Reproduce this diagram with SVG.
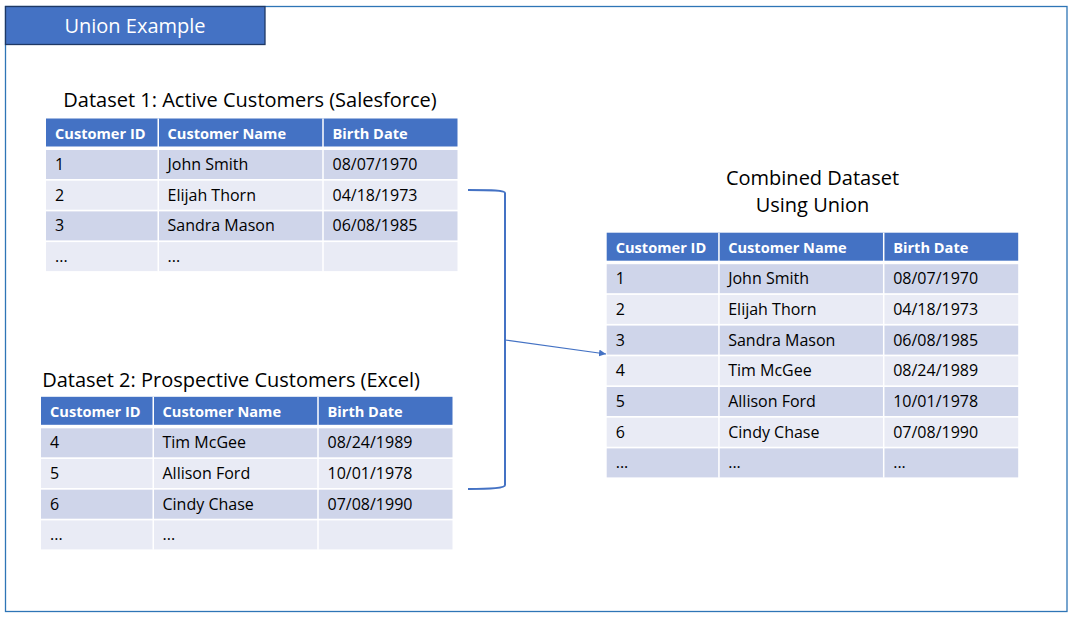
<svg xmlns="http://www.w3.org/2000/svg" width="1072" height="618" viewBox="0 0 1072 618">
<style>
.hd{fill:#4472C4}
.r1{fill:#CFD5EA}
.r2{fill:#E9EBF5}
.sep{stroke:#FFFFFF;stroke-width:1.5}
.ht{font-family:"Open Sans","Noto Sans",sans-serif;font-weight:bold;font-size:14.6px;fill:#FFFFFF}
.dt{font-family:"Open Sans","Noto Sans",sans-serif;font-size:16px;fill:#000000}
.ttl{font-family:"Open Sans","Noto Sans",sans-serif;font-size:20px;fill:#000000;text-anchor:middle}
.conn{fill:none;stroke:#4472C4}
</style>
<defs>
<marker id="arr" viewBox="0 0 10 10" refX="10" refY="5" markerWidth="7" markerHeight="7" markerUnits="userSpaceOnUse" orient="auto">
<path d="M0,0 L10,5 L0,10 z" fill="#4472C4"/>
</marker>
</defs>
<rect width="1072" height="618" fill="#FFFFFF"/>
<g id="frame">
<rect x="5.5" y="6.5" width="1061.5" height="605" fill="none" stroke="#2E75B6" stroke-width="1.3"/>
</g>
<g id="title">
<rect x="5.5" y="6.5" width="259.5" height="38" fill="#4472C4" stroke="#1F3864" stroke-width="1.3"/>
<text x="135" y="32.5" font-family="Open Sans, Noto Sans, sans-serif" font-size="20" fill="#FFFFFF" text-anchor="middle">Union Example</text>
</g>

<g id="dataset1">
<text class="ttl" x="250" y="106.5">Dataset 1: Active Customers (Salesforce)</text>
<g transform="translate(46,118.5)">
<rect class="hd" x="0" y="0" width="411.5" height="28"/>
<rect class="r1" x="0" y="31.5" width="411.5" height="29"/>
<rect class="r2" x="0" y="62.2" width="411.5" height="29"/>
<rect class="r1" x="0" y="92.9" width="411.5" height="29"/>
<rect class="r2" x="0" y="123.6" width="411.5" height="29"/>
<line class="sep" x1="112.25" y1="0" x2="112.25" y2="153"/>
<line class="sep" x1="277" y1="0" x2="277" y2="153"/>
<text class="ht" x="9" y="20.5">Customer ID</text>
<text class="ht" x="121.5" y="20.5">Customer Name</text>
<text class="ht" x="286.5" y="20.5">Birth Date</text>
<text class="dt" x="9" y="51.5">1</text>
<text class="dt" x="121.5" y="51.5">John Smith</text>
<text class="dt" x="286.5" y="51.5">08/07/1970</text>
<text class="dt" x="9" y="82.2">2</text>
<text class="dt" x="121.5" y="82.2">Elijah Thorn</text>
<text class="dt" x="286.5" y="82.2">04/18/1973</text>
<text class="dt" x="9" y="112.9">3</text>
<text class="dt" x="121.5" y="112.9">Sandra Mason</text>
<text class="dt" x="286.5" y="112.9">06/08/1985</text>
<text class="dt" x="9" y="143.6">...</text>
<text class="dt" x="121.5" y="143.6">...</text>
</g>
</g>

<g id="dataset2">
<text class="ttl" x="231" y="386.7">Dataset 2: Prospective Customers (Excel)</text>
<g transform="translate(41,396.8)">
<rect class="hd" x="0" y="0" width="411.5" height="28"/>
<rect class="r1" x="0" y="31.5" width="411.5" height="29"/>
<rect class="r2" x="0" y="62.2" width="411.5" height="29"/>
<rect class="r1" x="0" y="92.9" width="411.5" height="29"/>
<rect class="r2" x="0" y="123.6" width="411.5" height="29"/>
<line class="sep" x1="112.25" y1="0" x2="112.25" y2="153"/>
<line class="sep" x1="277" y1="0" x2="277" y2="153"/>
<text class="ht" x="9" y="20.5">Customer ID</text>
<text class="ht" x="121.5" y="20.5">Customer Name</text>
<text class="ht" x="286.5" y="20.5">Birth Date</text>
<text class="dt" x="9" y="51.5">4</text>
<text class="dt" x="121.5" y="51.5">Tim McGee</text>
<text class="dt" x="286.5" y="51.5">08/24/1989</text>
<text class="dt" x="9" y="82.2">5</text>
<text class="dt" x="121.5" y="82.2">Allison Ford</text>
<text class="dt" x="286.5" y="82.2">10/01/1978</text>
<text class="dt" x="9" y="112.9">6</text>
<text class="dt" x="121.5" y="112.9">Cindy Chase</text>
<text class="dt" x="286.5" y="112.9">07/08/1990</text>
<text class="dt" x="9" y="143.6">...</text>
<text class="dt" x="121.5" y="143.6">...</text>
</g>
</g>

<g id="combined">
<text class="ttl" x="812.5" y="185">Combined Dataset</text>
<text class="ttl" x="812.5" y="211.7">Using Union</text>
<g transform="translate(606.7,232.7)">
<rect class="hd" x="0" y="0" width="411.5" height="28"/>
<rect class="r1" x="0" y="31.5" width="411.5" height="29"/>
<rect class="r2" x="0" y="62.2" width="411.5" height="29"/>
<rect class="r1" x="0" y="92.9" width="411.5" height="29"/>
<rect class="r2" x="0" y="123.6" width="411.5" height="29"/>
<rect class="r1" x="0" y="154.3" width="411.5" height="29"/>
<rect class="r2" x="0" y="185" width="411.5" height="29"/>
<rect class="r1" x="0" y="215.7" width="411.5" height="29"/>
<line class="sep" x1="112.25" y1="0" x2="112.25" y2="245"/>
<line class="sep" x1="277" y1="0" x2="277" y2="245"/>
<text class="ht" x="9" y="20.5">Customer ID</text>
<text class="ht" x="121.5" y="20.5">Customer Name</text>
<text class="ht" x="286.5" y="20.5">Birth Date</text>
<text class="dt" x="9" y="51.5">1</text>
<text class="dt" x="121.5" y="51.5">John Smith</text>
<text class="dt" x="286.5" y="51.5">08/07/1970</text>
<text class="dt" x="9" y="82.2">2</text>
<text class="dt" x="121.5" y="82.2">Elijah Thorn</text>
<text class="dt" x="286.5" y="82.2">04/18/1973</text>
<text class="dt" x="9" y="112.9">3</text>
<text class="dt" x="121.5" y="112.9">Sandra Mason</text>
<text class="dt" x="286.5" y="112.9">06/08/1985</text>
<text class="dt" x="9" y="143.6">4</text>
<text class="dt" x="121.5" y="143.6">Tim McGee</text>
<text class="dt" x="286.5" y="143.6">08/24/1989</text>
<text class="dt" x="9" y="174.3">5</text>
<text class="dt" x="121.5" y="174.3">Allison Ford</text>
<text class="dt" x="286.5" y="174.3">10/01/1978</text>
<text class="dt" x="9" y="205">6</text>
<text class="dt" x="121.5" y="205">Cindy Chase</text>
<text class="dt" x="286.5" y="205">07/08/1990</text>
<text class="dt" x="9" y="235.7">...</text>
<text class="dt" x="121.5" y="235.7">...</text>
<text class="dt" x="286.5" y="235.7">...</text>
</g>
</g>

<g id="connectors">
<path class="conn" stroke-width="2" d="M468,190 C492,190 505,190 505,193 L505,485 C505,488 492,489 468,489"/>
<line class="conn" stroke-width="1.2" x1="505" y1="340" x2="606" y2="354" marker-end="url(#arr)"/>
</g>
</svg>
